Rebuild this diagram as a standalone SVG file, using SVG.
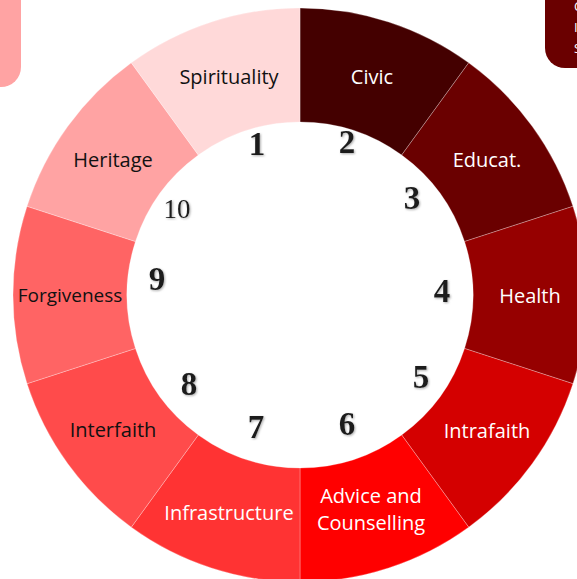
<svg xmlns="http://www.w3.org/2000/svg" width="577" height="579" viewBox="0 0 577 579">
  <defs>
    <style>
      .seg { stroke: #ffffff; stroke-opacity: 0.35; stroke-width: 0.8; }
      .lbl { font-family: "Open Sans", "Liberation Sans", sans-serif; font-size: 20px; text-anchor: middle; }
      .frag { font-family: "Open Sans", "Liberation Sans", sans-serif; font-size: 13px; fill: #ffffff; }
      .dark { fill: #111111; }
      .light { fill: #ffffff; }
      .num { font-family: "Liberation Serif", "DejaVu Serif", serif; font-weight: bold; font-size: 33px; text-anchor: middle; fill: #1e1e1e; filter: url(#soft); }
      .num10 { font-weight: normal; font-size: 27px; }
    </style>
    <filter id="soft" x="-30%" y="-30%" width="160%" height="160%">
      <feGaussianBlur in="SourceAlpha" stdDeviation="1.2" result="b"/>
      <feOffset in="b" dx="1" dy="1" result="o"/>
      <feFlood flood-color="#888888" flood-opacity="0.7"/>
      <feComposite in2="o" operator="in" result="s"/>
      <feGaussianBlur in="SourceGraphic" stdDeviation="0.4" result="g"/>
      <feMerge><feMergeNode in="s"/><feMergeNode in="g"/></feMerge>
    </filter>
  </defs>

  <rect width="577" height="579" fill="#ffffff"/>

  <!-- partial side boxes -->
  <g id="box-left">
    <rect x="-40" y="-30" width="61" height="117" rx="20" fill="#ffa3a3"/>
  </g>
  <g id="box-right">
    <rect x="545" y="-30" width="80" height="98" rx="20" fill="#6a0000"/>
    <text x="574" y="11" class="frag">C</text>
    <text x="574" y="32" class="frag">I</text>
    <text x="574" y="53" class="frag">S</text>
  </g>

  <g id="segments">
    <g id="civic">
      <path class="seg" fill="#440000" d="M300 8 A287 287 0 0 1 468.70 62.82 L401.69 155.04 A173 173 0 0 0 300 122 Z"/>
      <text class="lbl light" x="372" y="84">Civic</text>
    </g>
    <g id="educat">
      <path class="seg" fill="#6a0000" d="M468.70 62.82 A287 287 0 0 1 572.96 206.32 L464.54 241.54 A173 173 0 0 0 401.69 155.04 Z"/>
      <text class="lbl light" x="487" y="167">Educat.</text>
    </g>
    <g id="health">
      <path class="seg" fill="#960000" d="M572.96 206.32 A287 287 0 0 1 572.96 383.68 L464.54 348.46 A173 173 0 0 0 464.54 241.54 Z"/>
      <text class="lbl light" x="530" y="303">Health</text>
    </g>
    <g id="intrafaith">
      <path class="seg" fill="#d40000" d="M572.96 383.68 A287 287 0 0 1 468.70 527.18 L401.69 434.96 A173 173 0 0 0 464.54 348.46 Z"/>
      <text class="lbl light" x="487" y="438">Intrafaith</text>
    </g>
    <g id="advice">
      <path class="seg" fill="#ff0000" d="M468.70 527.18 A287 287 0 0 1 300 582 L300 468 A173 173 0 0 0 401.69 434.96 Z"/>
      <text class="lbl light" x="371" y="503">Advice and</text>
      <text class="lbl light" x="371" y="530">Counselling</text>
    </g>
    <g id="infrastructure">
      <path class="seg" fill="#ff3333" d="M300 582 A287 287 0 0 1 131.30 527.18 L198.31 434.96 A173 173 0 0 0 300 468 Z"/>
      <text class="lbl light" x="229" y="520">Infrastructure</text>
    </g>
    <g id="interfaith">
      <path class="seg" fill="#ff4b4b" d="M131.30 527.18 A287 287 0 0 1 27.04 383.68 L135.46 348.46 A173 173 0 0 0 198.31 434.96 Z"/>
      <text class="lbl dark" x="113" y="437">Interfaith</text>
    </g>
    <g id="forgiveness">
      <path class="seg" fill="#ff6464" d="M27.04 383.68 A287 287 0 0 1 27.04 206.32 L135.46 241.54 A173 173 0 0 0 135.46 348.46 Z"/>
      <text class="lbl dark" x="70" y="302" style="font-size:19px">Forgiveness</text>
    </g>
    <g id="heritage">
      <path class="seg" fill="#ffa3a3" d="M27.04 206.32 A287 287 0 0 1 131.30 62.82 L198.31 155.04 A173 173 0 0 0 135.46 241.54 Z"/>
      <text class="lbl dark" x="113" y="167">Heritage</text>
    </g>
    <g id="spirituality">
      <path class="seg" fill="#ffd9d9" d="M131.30 62.82 A287 287 0 0 1 300 8 L300 122 A173 173 0 0 0 198.31 155.04 Z"/>
      <text class="lbl dark" x="229" y="84">Spirituality</text>
    </g>
  </g>

  <g id="numbers">
    <text class="num" x="257" y="155">1</text>
    <text class="num" x="347" y="153">2</text>
    <text class="num" x="412" y="209">3</text>
    <text class="num" x="442" y="302">4</text>
    <text class="num" x="421" y="388">5</text>
    <text class="num" x="347" y="435">6</text>
    <text class="num" x="256" y="438">7</text>
    <text class="num" x="189" y="395">8</text>
    <text class="num" x="157" y="290">9</text>
    <text class="num num10" x="177" y="218">10</text>
  </g>
</svg>
